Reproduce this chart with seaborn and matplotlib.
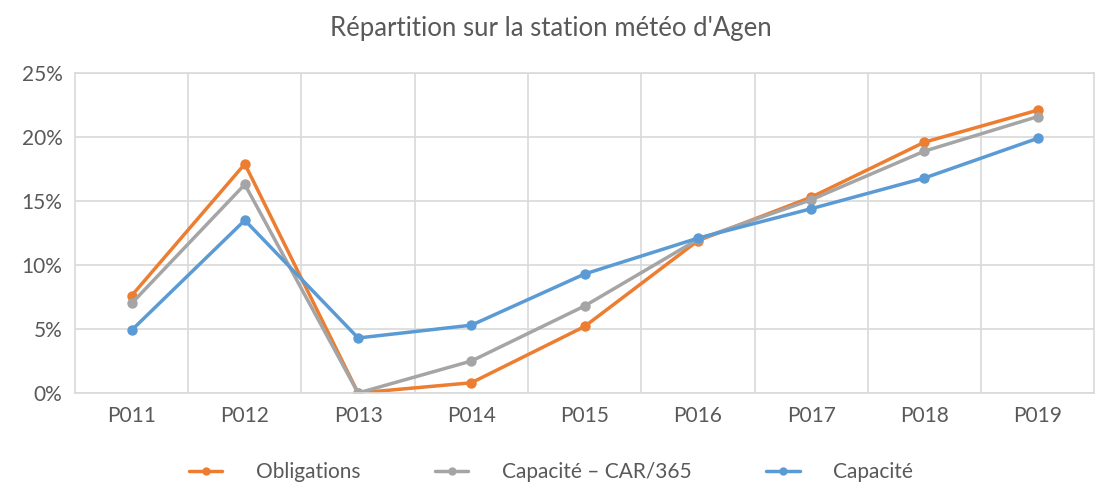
import pandas as pd
import seaborn as sns
import matplotlib.pyplot as plt
from matplotlib.ticker import PercentFormatter, MultipleLocator

periods = ["P011", "P012", "P013", "P014", "P015", "P016", "P017", "P018", "P019"]
obligations = [7.6, 17.9, 0.0, 0.8, 5.2, 11.9, 15.3, 19.6, 22.1]
capacite_car = [7.0, 16.3, 0.0, 2.5, 6.8, 12.0, 15.1, 18.9, 21.6]
capacite = [4.9, 13.5, 4.3, 5.3, 9.3, 12.1, 14.4, 16.8, 19.9]

series_names = ["Obligations", "Capacité – CAR/365", "Capacité"]
colors = ["#ED7D31", "#A5A5A5", "#5B9BD5"]


def main():
    df = pd.DataFrame({
        "periode": periods * 3,
        "valeur": obligations + capacite_car + capacite,
        "serie": [series_names[0]] * 9 + [series_names[1]] * 9 + [series_names[2]] * 9,
    })

    sns.set_theme(style="white")
    plt.rcParams["font.family"] = ["Lato", "DejaVu Sans"]

    fig = plt.figure(figsize=(11.02, 4.84), dpi=100)
    ax = fig.add_axes([0.068, 0.188, 0.925, 0.661])

    sns.lineplot(data=df, x="periode", y="valeur", hue="serie",
                 palette=dict(zip(series_names, colors)), marker="o",
                 markersize=7.5, markeredgewidth=0, linewidth=2.5,
                 sort=False, ax=ax, legend=True)

    ax.set_xlim(-0.5, len(periods) - 0.5)
    ax.set_ylim(0, 25)
    ax.yaxis.set_major_locator(MultipleLocator(5))
    ax.yaxis.set_major_formatter(PercentFormatter(decimals=0))
    ax.set_xticks(range(len(periods)))
    ax.set_xticklabels(periods)
    ax.set_xticks([i + 0.5 for i in range(len(periods) - 1)], minor=True)

    # Excel style grid: horizontal on major, vertical between categories
    ax.grid(axis="y", which="major", color="#D9D9D9", linewidth=1.2)
    ax.grid(axis="x", which="minor", color="#D9D9D9", linewidth=1.2)
    ax.grid(axis="x", which="major", visible=False)
    ax.set_axisbelow(True)
    for side in ["left", "right", "top", "bottom"]:
        ax.spines[side].set_color("#D9D9D9")
        ax.spines[side].set_linewidth(1.2)
    ax.tick_params(axis="both", which="both", length=0, labelsize=15,
                   labelcolor="#595959", pad=9)
    ax.set_xlabel("")
    ax.set_ylabel("")

    fig.text(0.5, 0.942, "Répartition sur la station météo d'Agen",
             ha="center", va="center", fontsize=18.5, color="#595959")

    handles, labels = ax.get_legend_handles_labels()
    ax.get_legend().remove()
    leg = fig.legend(handles, labels, loc="center", ncol=3, frameon=False,
                     bbox_to_anchor=(0.5, 0.025), fontsize=15,
                     labelcolor="#595959", columnspacing=3.6,
                     handlelength=1.6, handletextpad=1.6)
    for h in leg.legend_handles:
        h.set_markersize(6)

    plt.savefig("out.png", dpi=100)
    plt.close()


if __name__ == "__main__":
    main()
